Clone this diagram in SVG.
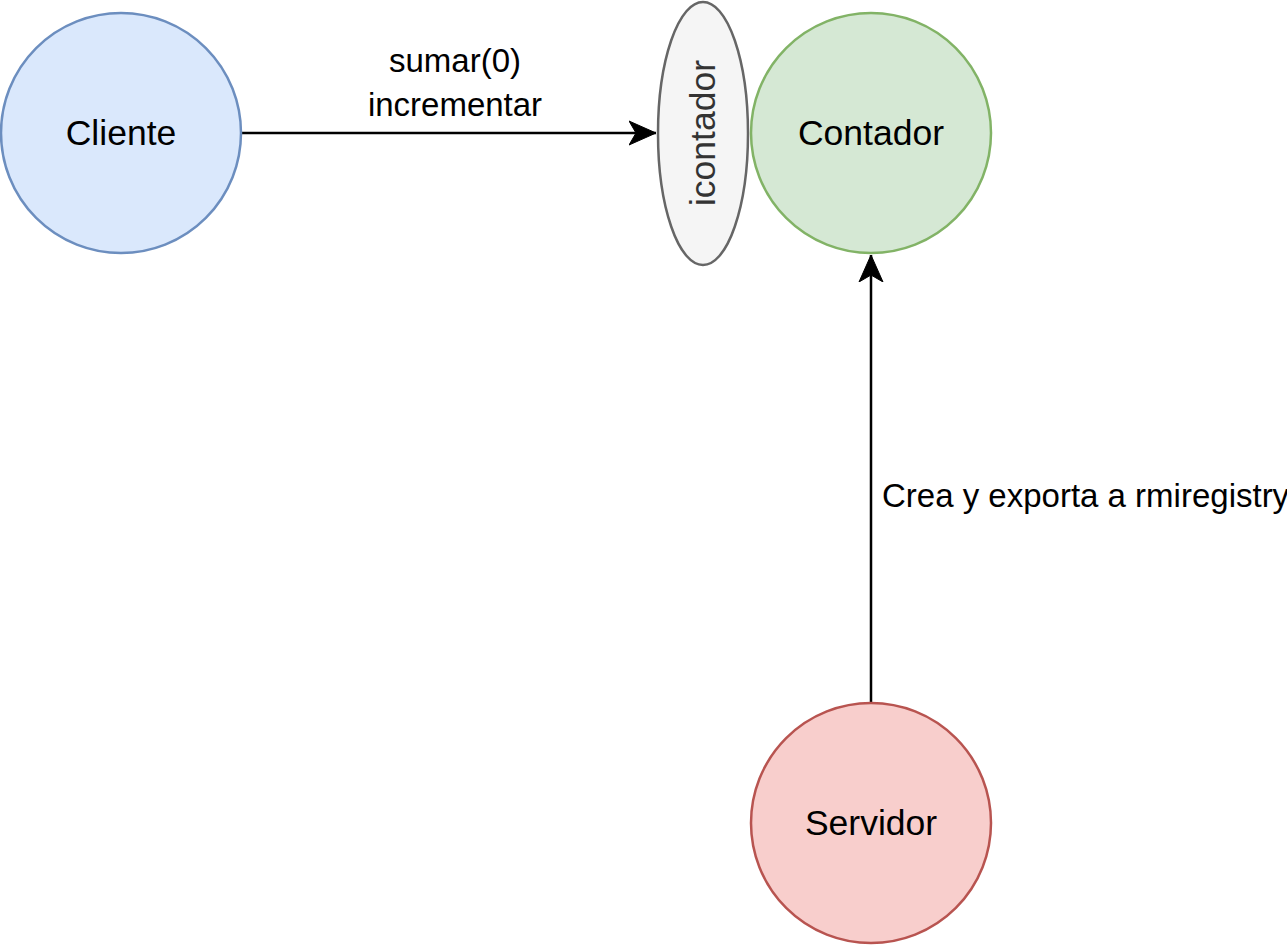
<svg xmlns="http://www.w3.org/2000/svg" width="1287" height="945" viewBox="0 0 1287 945">
<style>
.node{stroke-width:2.5}
.lbl{font-family:"Liberation Sans",Arial,sans-serif;font-size:35.5px;fill:#000;text-anchor:middle}
.elbl{font-family:"Liberation Sans",Arial,sans-serif;font-size:33px;fill:#000}
.edge{stroke:#000;stroke-width:2.5;fill:none}
</style>
<defs>
<marker id="arr" markerUnits="userSpaceOnUse" markerWidth="30" markerHeight="26" refX="27" refY="12" orient="auto" viewBox="0 0 30 24">
<path d="M0,0 L27,12 L0,24 L7,12 Z" fill="#000" stroke="#000" stroke-width="1"/>
</marker>
</defs>
<rect width="1287" height="945" fill="#fff"/>
<g id="connectors">
<line class="edge" x1="242" y1="133" x2="656" y2="133" marker-end="url(#arr)"/>
<line class="edge" x1="871" y1="703" x2="871" y2="255" marker-end="url(#arr)"/>
<text class="elbl" x="455" y="72" text-anchor="middle">sumar(0)</text>
<text class="elbl" x="455" y="116" text-anchor="middle">incrementar</text>
<text class="elbl" x="882" y="507">Crea y exporta a rmiregistry</text>
</g>
<g id="cliente">
<circle class="node" cx="121" cy="133" r="120" fill="#dae8fc" stroke="#6c8ebf"/>
<text class="lbl" x="121" y="145">Cliente</text>
</g>
<g id="icontador">
<ellipse class="node" cx="703" cy="133.5" rx="45" ry="131.5" fill="#f5f5f5" stroke="#666666"/>
<text class="lbl" x="0" y="0" transform="translate(715,133) rotate(-90)" style="fill:#333333">icontador</text>
</g>
<g id="contador">
<circle class="node" cx="871" cy="133" r="120" fill="#d5e8d4" stroke="#82b366"/>
<text class="lbl" x="871" y="145">Contador</text>
</g>
<g id="servidor">
<circle class="node" cx="871" cy="823" r="120" fill="#f8cecc" stroke="#b85450"/>
<text class="lbl" x="871" y="835">Servidor</text>
</g>
</svg>
